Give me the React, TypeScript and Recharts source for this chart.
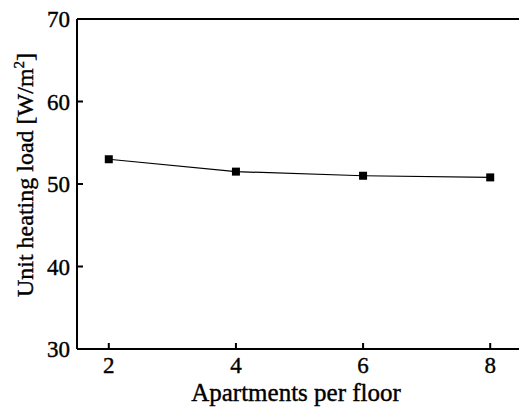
// Unit heating load vs. apartments per floor — single line chart, journal style

import { LineChart, Line, XAxis, YAxis, ReferenceLine } from 'recharts';

// =============================================================================
// DATA
// =============================================================================

const apartments = [2, 4, 6, 8];
const heatingLoad = [53.0, 51.5, 51.0, 50.8];
const xTicks = [2, 4, 6, 8];
const yTicks = [30, 40, 50, 60, 70];

const chartData = apartments.map((a, i) => ({ apartments: a, load: heatingLoad[i] }));

// =============================================================================
// STYLE
// =============================================================================

const FONT = '"Liberation Serif", "DejaVu Serif", serif';
const INK = '#000';
const TEXT_STROKE = 0.4; // scanned print looks a bit heavier than plain Times

function YTick({ x, y, payload }: any) {
  return (
    <g>
      <line x1={x} x2={x + 6} y1={y} y2={y} stroke={INK} strokeWidth={2} />
      <text
        x={x - 7}
        y={y}
        dy={8}
        textAnchor="end"
        fontFamily={FONT}
        fontSize={23}
        fill={INK}
        stroke={INK}
        strokeWidth={TEXT_STROKE}
      >
        {payload.value}
      </text>
    </g>
  );
}

function XTick({ x, y, payload }: any) {
  return (
    <g>
      <line x1={x} x2={x} y1={y} y2={y - 6} stroke={INK} strokeWidth={2} />
      <text
        x={x}
        y={y + 24}
        textAnchor="middle"
        fontFamily={FONT}
        fontSize={23}
        fill={INK}
        stroke={INK}
        strokeWidth={TEXT_STROKE}
      >
        {payload.value}
      </text>
    </g>
  );
}

function YLabel({ viewBox }: any) {
  const cy = viewBox.y + viewBox.height / 2 - 9;
  const cx = 33;
  return (
    <text
      x={cx}
      y={cy}
      transform={`rotate(-90, ${cx}, ${cy})`}
      textAnchor="middle"
      fontFamily={FONT}
      fontSize={24}
      fill={INK}
      stroke={INK}
      strokeWidth={TEXT_STROKE}
    >
      Unit heating load [W/m
      <tspan dy={-9} fontSize={15}>2</tspan>
      <tspan dy={9}>]</tspan>
    </text>
  );
}

function XLabel() {
  return (
    <text
      x={296}
      y={401}
      textAnchor="middle"
      fontFamily={FONT}
      fontSize={25}
      fill={INK}
      stroke={INK}
      strokeWidth={TEXT_STROKE}
    >
      Apartments per floor
    </text>
  );
}

export default function App() {
  return (
    <div
      style={{
        position: 'absolute',
        left: 0,
        top: 0,
        width: 519,
        height: 407,
        overflow: 'hidden',
        background: '#fff',
      }}
    >
      <LineChart
        width={530}
        height={407}
        data={chartData}
        margin={{ top: 19, right: 8, left: 0, bottom: 0 }}
      >
        <XAxis
          dataKey="apartments"
          type="number"
          domain={[1.5, 8.5]}
          ticks={xTicks}
          allowDataOverflow
          height={58}
          stroke={INK}
          strokeWidth={2}
          tickSize={0}
          tickMargin={0}
          tickLine={false}
          tick={<XTick />}
          label={{ content: () => <XLabel /> }}
        />
        <YAxis
          type="number"
          domain={[30, 70]}
          ticks={yTicks}
          allowDataOverflow
          width={77}
          stroke={INK}
          strokeWidth={2}
          tickSize={0}
          tickMargin={0}
          tickLine={false}
          tick={<YTick />}
          label={{ content: (props: any) => <YLabel {...props} /> }}
        />
        <ReferenceLine y={70} stroke={INK} strokeWidth={2} />
        <Line
          dataKey="load"
          type="linear"
          stroke={INK}
          strokeWidth={1.2}
          isAnimationActive={false}
          dot={(p: any) => (
            <rect key={p.index} x={p.cx - 4} y={p.cy - 4} width={8} height={8} fill={INK} />
          )}
          activeDot={false}
        />
      </LineChart>
    </div>
  );
}
